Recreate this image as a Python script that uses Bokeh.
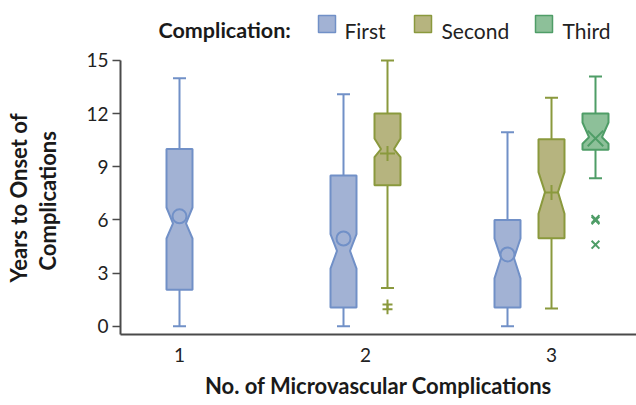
import math
from bokeh.plotting import figure
from bokeh.models import Range1d, FixedTicker, Label, Title
from bokeh.embed import file_html
from bokeh.resources import INLINE

# ---------------- data ----------------
categories = [1, 2, 3]
tick_labels = ["1", "2", "3"]
y_ticks = [0, 3, 6, 9, 12, 15]
series_names = ["First", "Second", "Third"]

first_cats = [1, 2, 3]
first_min = [0.0, 0.0, 0.0]
first_q1 = [2.05, 1.05, 1.05]
first_notch_lo = [4.95, 3.25, 2.7]
first_median = [5.8, 4.25, 3.85]
first_notch_hi = [6.7, 5.2, 4.95]
first_q3 = [10.0, 8.5, 6.0]
first_max = [14.0, 13.1, 10.95]
first_mean = [6.2, 4.95, 4.05]
first_out_cats = []
first_out = []

second_cats = [2, 3]
second_min = [2.15, 1.0]
second_q1 = [7.95, 4.97]
second_notch_lo = [9.55, 6.35]
second_median = [10.0, 7.57]
second_notch_hi = [10.6, 8.7]
second_q3 = [12.0, 10.55]
second_max = [15.0, 12.9]
second_mean = [9.75, 7.55]
second_out_cats = [2, 2]
second_out = [1.22, 0.95]

third_cats = [3]
third_min = [8.35]
third_q1 = [9.96]
third_notch_lo = [10.3]
third_median = [10.67]
third_notch_hi = [11.5]
third_q3 = [12.0]
third_max = [14.1]
third_mean = [10.6]
third_out_cats = [3, 3, 3]
third_out = [6.05, 5.97, 4.6]

# ---------------- styles ----------------
FILL = {"First": "#a2b2d4", "Second": "#b6b47f", "Third": "#8dc099"}
EDGE = {"First": "#7190c7", "Second": "#8a993d", "Third": "#4f9d67"}
MEAN_MARK = {"First": "circle", "Second": "cross", "Third": "x"}
MEAN_SIZE = {"First": 14, "Second": 15, "Third": 22}
OUT_MARK = {"First": "circle", "Second": "cross", "Third": "x"}
OUT_SIZE = {"First": 10, "Second": 10, "Third": 11}
TXT = "#1a1a1a"

W, H = 636, 405
LEFT, BOTTOM = 120, 71
PX_X = 186.0      # px per category unit
PX_Y = 17.713     # px per year
X0 = 1 - 59 / PX_X
Y0 = -0.47
BOX_W = 26 / PX_X
NOTCH_W = 13 / PX_X
CAP_W = 13 / PX_X
DODGE = 44 / PX_X

series = {
    "First": dict(cats=first_cats, mn=first_min, q1=first_q1, nlo=first_notch_lo, med=first_median,
                  nhi=first_notch_hi, q3=first_q3, mx=first_max, mean=first_mean,
                  ocats=first_out_cats, out=first_out),
    "Second": dict(cats=second_cats, mn=second_min, q1=second_q1, nlo=second_notch_lo, med=second_median,
                   nhi=second_notch_hi, q3=second_q3, mx=second_max, mean=second_mean,
                   ocats=second_out_cats, out=second_out),
    "Third": dict(cats=third_cats, mn=third_min, q1=third_q1, nlo=third_notch_lo, med=third_median,
                  nhi=third_notch_hi, q3=third_q3, mx=third_max, mean=third_mean,
                  ocats=third_out_cats, out=third_out),
}

present = {c: [n for n in series_names if c in series[n]["cats"]] for c in categories}


def xpos(name, cat):
    lst = present[cat]
    i = lst.index(name)
    return cat + (i - (len(lst) - 1) / 2) * DODGE


p = figure(width=W, height=H,
           x_range=Range1d(X0, X0 + (W - LEFT) / PX_X),
           y_range=Range1d(Y0, Y0 + (H - BOTTOM) / PX_Y),
           output_backend="svg", toolbar_location=None,
           min_border_left=LEFT, min_border_right=0, min_border_top=0, min_border_bottom=BOTTOM)
p.outline_line_color = None
p.xgrid.visible = False
p.ygrid.visible = False
p.background_fill_color = "white"

for name in series_names:
    s = series[name]
    xs_all, ys_all, xc = [], [], []
    for k, c in enumerate(s["cats"]):
        x = xpos(name, c)
        xc.append(x)
        hw, nw = BOX_W / 2, NOTCH_W / 2
        xs_all.append([x - hw, x - hw, x - nw, x - hw, x - hw, x + hw, x + hw, x + nw, x + hw, x + hw])
        ys_all.append([s["q1"][k], s["nlo"][k], s["med"][k], s["nhi"][k], s["q3"][k],
                       s["q3"][k], s["nhi"][k], s["med"][k], s["nlo"][k], s["q1"][k]])
    # whiskers
    p.segment(x0=xc, y0=s["q3"], x1=xc, y1=s["mx"], line_color=EDGE[name], line_width=2)
    p.segment(x0=xc, y0=s["q1"], x1=xc, y1=s["mn"], line_color=EDGE[name], line_width=2)
    p.segment(x0=[x - CAP_W / 2 for x in xc], y0=s["mx"], x1=[x + CAP_W / 2 for x in xc], y1=s["mx"],
              line_color=EDGE[name], line_width=2)
    p.segment(x0=[x - CAP_W / 2 for x in xc], y0=s["mn"], x1=[x + CAP_W / 2 for x in xc], y1=s["mn"],
              line_color=EDGE[name], line_width=2)
    # notched boxes
    p.patches(xs=xs_all, ys=ys_all, fill_color=FILL[name], line_color=EDGE[name], line_width=2)
    # means
    p.scatter(x=xc, y=s["mean"], marker=MEAN_MARK[name], size=MEAN_SIZE[name],
              fill_color=FILL[name], line_color=EDGE[name], line_width=2)
    # outliers
    if s["out"]:
        ox = [xpos(name, c) for c in s["ocats"]]
        p.scatter(x=ox, y=s["out"], marker=OUT_MARK[name], size=OUT_SIZE[name],
                  line_color=EDGE[name], line_width=2)

# axes
for ax in (p.xaxis[0], p.yaxis[0]):
    ax.axis_line_color = "#4a4a4a"
    ax.axis_line_width = 2
    ax.major_tick_line_color = "#4a4a4a"
    ax.major_tick_line_width = 1.5
    ax.minor_tick_line_color = None
    ax.major_label_text_font = "Lato"
    ax.major_label_text_font_size = "19px"
    ax.major_label_text_color = "#222222"

p.xaxis.ticker = FixedTicker(ticks=categories)
p.xaxis.major_label_overrides = {c: t for c, t in zip(categories, tick_labels)}
p.xaxis.major_tick_out = 0
p.xaxis.major_tick_in = 0
p.xaxis.major_label_standoff = 13

p.yaxis.ticker = FixedTicker(ticks=y_ticks)
p.yaxis.bounds = (Y0, 15)
p.yaxis.major_tick_out = 8
p.yaxis.major_tick_in = 0
p.yaxis.major_label_standoff = 4
# blank spacer label: pushes the two-line title away from the tick labels
p.yaxis.axis_label = " "
p.yaxis.axis_label_text_font_size = "1px"
p.yaxis.axis_label_standoff = 19

# titles (side panels)
p.add_layout(Title(text="Complications", align="left", offset=64, standoff=0,
                   text_font="Lato", text_font_style="bold", text_font_size="22px",
                   text_color=TXT), "left")
p.add_layout(Title(text="Years to Onset of", align="left", offset=52, standoff=0,
                   text_font="Lato", text_font_style="bold", text_font_size="22px",
                   text_color=TXT), "left")
p.add_layout(Title(text="No. of Microvascular Complications", align="center", standoff=11,
                   text_font="Lato", text_font_style="bold", text_font_size="22px",
                   text_color=TXT), "below")


def dx(px):  # canvas x -> data x
    return 1 + (px - 179) / PX_X


def dy(py):  # canvas y -> data y
    return (325.7 - py) / PX_Y


# legend
p.add_layout(Label(x=dx(158), y=dy(30), text="Complication:", text_align="left",
                   text_baseline="alphabetic", text_font="Lato", text_font_style="bold",
                   text_font_size="21.5px", text_color=TXT))
swatch_px = [326.5, 422.5, 543.5]
label_px = [344, 441, 562]
p.scatter(x=[dx(v) for v in swatch_px], y=[dy(23.5)] * 3, marker="square", size=17,
          fill_color=[FILL[n] for n in series_names], line_color=[EDGE[n] for n in series_names],
          line_width=1.5)
for n, lx in zip(series_names, label_px):
    p.add_layout(Label(x=dx(lx), y=dy(30), text=n, text_align="left", text_baseline="alphabetic",
                       text_font="Lato", text_font_size="21px", text_color="#222222"))

open("out.html", "w").write(file_html(p, INLINE))
